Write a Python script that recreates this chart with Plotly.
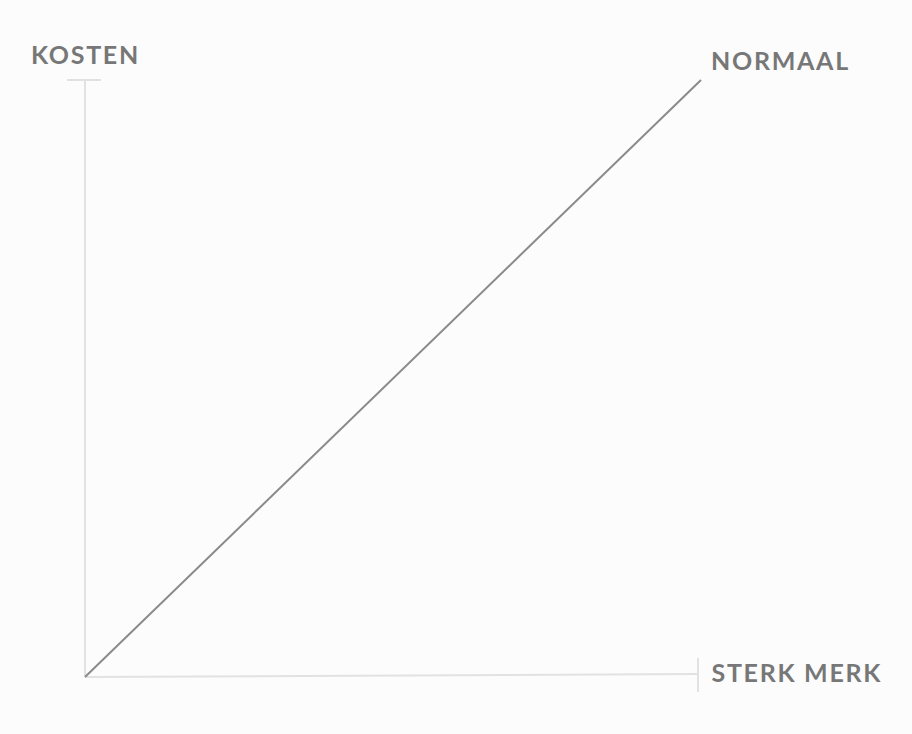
import plotly.graph_objects as go

# schematic: costs vs. brand strength
merk = [0, 1]        # horizontal axis (sterk merk)
kosten = [0, 1]      # vertical axis (kosten)
labels = {"y": "KOSTEN", "line": "NORMAAL", "x": "STERK MERK"}

W, H = 912, 734
X0, X1 = 85, 701   # pixel positions of data 0 and 1
Y0, Y1 = 677, 80

def px_x(p):
    return (p - X0) / (X1 - X0)

def px_y(q):
    return (Y0 - q) / (Y0 - Y1)

axis_col = "#e2e2e2"
text_col = "#777777"
font = dict(family="Lato, 'Open Sans', sans-serif", size=25, color=text_col, weight=700)

fig = go.Figure()
fig.add_trace(go.Scatter(x=merk, y=kosten, mode="lines",
                         line=dict(color="#8a8a8a", width=2), hoverinfo="skip"))

shapes = [
    # y axis + top cap
    dict(type="line", x0=0, y0=0, x1=0, y1=1, line=dict(color=axis_col, width=2)),
    dict(type="line", x0=px_x(67), y0=1, x1=px_x(101), y1=1, line=dict(color=axis_col, width=2)),
    # x axis + end cap
    dict(type="line", x0=0, y0=0, x1=px_x(698), y1=px_y(674), line=dict(color=axis_col, width=2)),
    dict(type="line", x0=px_x(698), y0=px_y(658), x1=px_x(698), y1=px_y(692), line=dict(color=axis_col, width=2)),
]
for s in shapes:
    s.update(xref="x", yref="y", layer="below")

# label centres (letter spacing is added around the centre)
annotations = [
    dict(text=labels["y"], x=85 / W, y=1 - 54 / H),
    dict(text=labels["line"], x=780 / W, y=1 - 60 / H),
    dict(text=labels["x"], x=797 / W, y=1 - 672 / H),
]
for a in annotations:
    a.update(xref="paper", yref="paper", xanchor="center", yanchor="middle",
             showarrow=False, font=font)

fig.update_layout(
    width=W, height=H,
    margin=dict(l=0, r=0, t=0, b=0),
    paper_bgcolor="#fcfcfc", plot_bgcolor="#fcfcfc",
    showlegend=False,
    shapes=shapes, annotations=annotations,
    xaxis=dict(range=[px_x(0), px_x(W)], visible=False, fixedrange=True),
    yaxis=dict(range=[px_y(H), px_y(0)], visible=False, fixedrange=True),
)

# no page margin, and tracked-out caps like the original labels
post = (
    "document.body.style.margin='0';"
    "document.querySelectorAll('.annotation-text').forEach(function(t){"
    "t.style.letterSpacing='1.7px';});"
)
fig.write_html("out.html", config={"displayModeBar": False}, post_script=post)
